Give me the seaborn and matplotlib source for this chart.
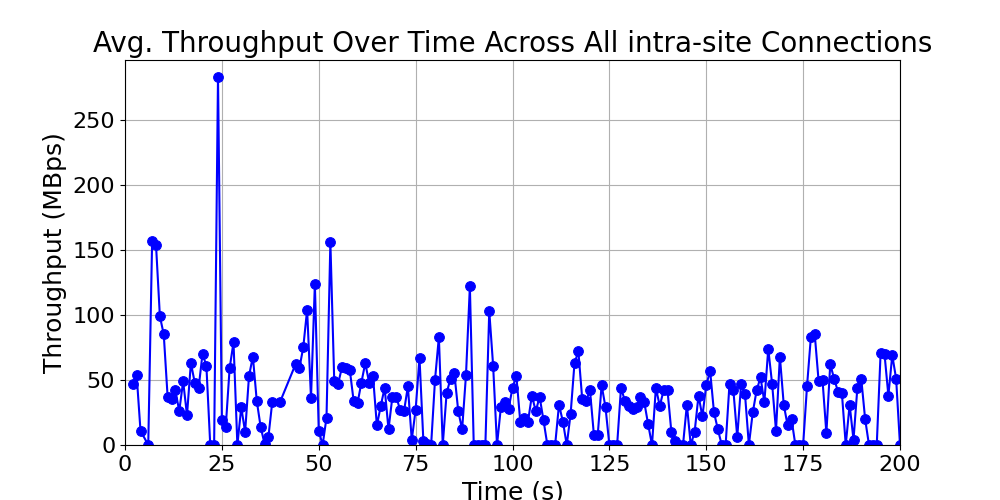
import matplotlib
matplotlib.use("Agg")
import matplotlib.pyplot as plt
import seaborn as sns
import pandas as pd

time_s = [2,3,4,6,7,8,9,10,11,12,13,14,15,16,17,18,19,20,21,22,23,24,25,26,27,28,29,30,31,32,33,34,35,36,37,38,40,
          44,45,46,47,48,49,50,51,52,53,54,55,56,57,58,59,60,61,62,63,64,65,66,67,68,69,70,71,72,73,74,75,76,77,78,79,
          80,81,82,83,84,85,86,87,88,89,90,91,92,93,94,95,96,97,98,99,100,101,102,103,104,105,106,107,108,109,110,111,
          112,113,114,115,116,117,118,119,120,121,122,123,124,125,126,127,128,129,130,131,132,133,134,135,136,137,138,
          139,140,141,142,143,144,145,146,147,148,149,150,151,152,153,154,155,156,157,158,159,160,161,162,163,164,165,
          166,167,168,169,170,171,172,173,174,175,176,177,178,179,180,181,182,183,184,185,186,187,188,189,190,191,192,
          193,194,195,196,197,198,199,200]
throughput = [47,54,11,0,157,154,99,85,37,35,42,26,49,23,63,48,44,70,61,0,0,283,19,14,59,79,0,29,10,53,68,34,14,1,6,33,33,
              62,59,75,104,36,124,11,0,21,156,49,47,60,59,58,34,32,48,63,48,53,15,30,44,12,37,37,27,26,45,4,27,67,3,1,0,
              50,83,0,40,51,55,26,12,54,122,0,0,0,0,103,61,0,29,33,28,44,53,18,21,18,38,26,37,19,0,0,0,
              31,18,0,24,63,72,35,34,42,8,8,46,29,0,0,0,44,34,30,28,29,37,33,16,0,44,30,
              42,42,10,3,0,0,31,0,10,38,22,46,57,25,12,0,0,47,42,6,47,39,0,25,42,52,33,
              74,47,11,68,31,15,20,0,0,0,45,83,85,49,50,9,62,51,41,40,0,31,4,44,51,20,0,
              0,0,71,70,38,69,51,0]

df = pd.DataFrame({"t": time_s, "v": throughput})
fig, ax = plt.subplots(figsize=(10, 5), dpi=100)
sns.lineplot(data=df, x="t", y="v", ax=ax, color="blue", marker="o", markersize=7,
             markeredgecolor="blue", linewidth=1.5)
ax.set_xlim(0, 200)
ax.set_ylim(0, 296)
ax.grid(True, color="#b0b0b0")
ax.set_title("Avg. Throughput Over Time Across All intra-site Connections", fontsize=20)
ax.set_xlabel("Time (s)", fontsize=18)
ax.set_ylabel("Throughput (MBps)", fontsize=18)
ax.tick_params(labelsize=16)
fig.subplots_adjust(left=0.125, right=0.9, top=0.88, bottom=0.11)
fig.savefig("out.png")
